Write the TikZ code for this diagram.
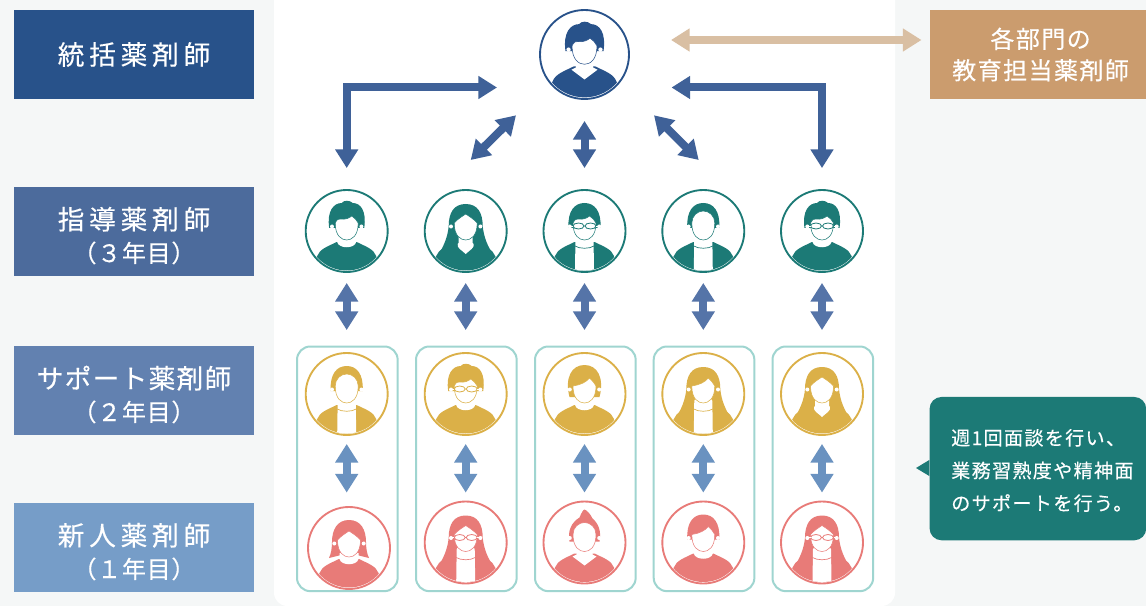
\documentclass[tikz,border=0pt]{standalone}
\usepackage{fontspec}
\usetikzlibrary{arrows.meta}
\newfontfamily\jp[FakeBold=0.3]{Noto Sans CJK JP}
\definecolor{pagebg}{HTML}{F5F7F7}
\definecolor{navyA}{HTML}{28528A}
\definecolor{navyB}{HTML}{4C6B9C}
\definecolor{navyC}{HTML}{6281B0}
\definecolor{navyD}{HTML}{769DC8}
\definecolor{tealP}{HTML}{1C7A76}
\definecolor{yellowP}{HTML}{DBB048}
\definecolor{redP}{HTML}{E87B78}
\definecolor{boxline}{HTML}{9FD5D0}
\definecolor{tan}{HTML}{CB9C6E}
\definecolor{tanlight}{HTML}{D9BFA3}
\definecolor{arrA}{HTML}{3F6198}
\definecolor{arrB}{HTML}{5574A8}
\definecolor{arrC}{HTML}{6A92C0}
\newcommand{\lblfont}[1]{\jp\fontsize{20pt}{24.5pt}\selectfont\addfontfeature{LetterSpace=#1}}
\newcommand{\yearfont}{\fontsize{18pt}{24.5pt}\selectfont\addfontfeature{LetterSpace=3}}
\tikzset{
  x=.75pt,y=-.75pt,
  lbl/.style={fill=#1,text=white,minimum width=179.6pt,minimum height=66.4pt,inner sep=0pt,align=center,anchor=north west},
  twoway/.style={line width=6pt,{Triangle[length=14pt,width=16.5pt]}-{Triangle[length=14pt,width=16.5pt]}},
  group/.style={draw=boxline,line width=1.5pt,rounded corners=10pt,fill=white,minimum width=75.5pt,minimum height=183.5pt,inner sep=0pt,anchor=north west},
}
% ---- person parts: local coordinates in reference pixels, centred on circle
\newcommand{\pbody}{\fill[pc] (-40,48) -- (-29.5,25) .. controls (-27,18) and (-19,15.5) .. (-10,11) -- (10,11) .. controls (19,15.5) and (27,18) .. (29.5,25) -- (40,48) -- cycle;}
% hair
\newcommand{\hShort}{\fill[pc] (-17.5,-3) .. controls (-20,-20) and (-13,-28) .. (-5,-28) .. controls (-3,-31) and (3,-31) .. (6,-28) .. controls (14,-28) and (20,-20) .. (17.5,-3) -- cycle;}
\newcommand{\hThin}{\fill[pc] (-16,-3) .. controls (-17,-20) and (-10,-28) .. (0,-28) .. controls (10,-28) and (17,-20) .. (16,-3) -- cycle;}
\newcommand{\hBob}{\fill[pc] (0,-28) .. controls (-12,-28) and (-17,-18) .. (-17,-6) .. controls (-17,0) and (-18,6) .. (-20,10) -- (-8,7) -- (8,7) -- (20,10) .. controls (18,6) and (17,0) .. (17,-6) .. controls (17,-18) and (12,-28) .. (0,-28) -- cycle;}
\newcommand{\hRound}{\fill[pc] (-15,3) .. controls (-20,-16) and (-13,-29) .. (0,-29) .. controls (13,-29) and (20,-16) .. (15,3) -- cycle;}
\newcommand{\hLong}{\fill[pc] (0,-27) .. controls (-12,-27) and (-17,-18) .. (-17,-5) .. controls (-18,6) and (-22,16) .. (-29,26) -- (-10,30) -- (10,30) -- (29,26) .. controls (22,16) and (18,6) .. (17,-5) .. controls (17,-18) and (12,-27) .. (0,-27) -- cycle;}
\newcommand{\hBun}{\fill[pc] (-15,-1) .. controls (-17,-12) and (-13,-20) .. (-5,-25) .. controls (-3,-30) and (-1,-33) .. (0,-33) .. controls (3,-32) and (6,-28) .. (8,-24) .. controls (14,-19) and (17,-11) .. (15,-1) -- cycle;}
% necks
\newcommand{\nCrew}{\fill[white] (-9.5,5) -- (-9.5,11) .. controls (-8,18) and (8,18) .. (9.5,11) -- (9.5,5) -- cycle;}
\newcommand{\nV}{\fill[white] (-8,5) -- (-8,12) -- (-12,14) -- (0,23) -- (12,14) -- (8,12) -- (8,5) -- cycle;}
\newcommand{\nJacket}{\fill[white,rounded corners=1.5pt] (-9,5) -- (-9.5,40) -- (9.5,40) -- (9,5) -- cycle; \draw[pc,line width=.5pt] (-9.5,15) .. controls (-5,18) and (5,18) .. (9.5,15);}
\newcommand{\nHeart}{\fill[white] (-7,5) -- (-7,12) -- (-8,13) .. controls (-9,17) and (-4,19) .. (0,23) .. controls (4,19) and (9,17) .. (8,13) -- (7,12) -- (7,5) -- cycle;}
% faces (top edge differs)
\newcommand{\lowface}{(11.5,-8) .. controls (11.5,5) and (5,9) .. (0,9) .. controls (-5,9) and (-11.5,5) .. (-11.5,-8)}
\newcommand{\fFringe}{\filldraw[fill=white,draw=pc,line width=.4pt] \lowface .. controls (-10,-11) and (-8,-13) .. (-6,-12) .. controls (-2,-11) and (3,-13) .. (5,-15) .. controls (8,-13) and (10,-11) .. (11.5,-8) -- cycle;}
\newcommand{\fRound}{\filldraw[fill=white,draw=pc,line width=.4pt] \lowface .. controls (-11.5,-15) and (-6,-20) .. (0,-20) .. controls (6,-20) and (11.5,-15) .. (11.5,-8) -- cycle;}
\newcommand{\fSweep}{\filldraw[fill=white,draw=pc,line width=.4pt] \lowface .. controls (-4,-9) and (2,-12) .. (5,-16) .. controls (8,-13) and (10,-11) .. (11.5,-8) -- cycle;}
\newcommand{\fParted}{\filldraw[fill=white,draw=pc,line width=.4pt] \lowface .. controls (-8,-12) and (-3,-15) .. (0,-17) .. controls (3,-15) and (8,-12) .. (11.5,-8) -- cycle;}
\newcommand{\ears}{\fill[white] (-14.7,-4.5) circle (2) (14.7,-4.5) circle (2);}
\newcommand{\gOn}{\filldraw[fill=white,draw=pc,line width=.6pt] (-6,-5) ellipse (5.5 and 3) (6,-5) ellipse (5.5 and 3); \draw[white,line width=.6pt] (-16,-5) -- (-11.5,-5) (11.5,-5) -- (16,-5);}
\newcommand{\gOff}{}
% #1 name #2 position #3 colour #4 diameter(pt) #5 scale #6 hair #7 neck #8 face #9 glasses
\newcommand{\person}[9]{%
  \colorlet{pc}{#3}%
  \begin{scope}[shift={#2},scale=#5]
    \begin{scope}
      \clip (0,0) circle (39.5);
      \pbody #6 #7 #8 \ears #9
    \end{scope}
  \end{scope}
  \node[circle,draw=pc,line width=1.4pt,minimum size=#4,inner sep=0pt] (#1) at #2 {};
}
\begin{document}
\begin{tikzpicture}
\useasboundingbox (0,0) rectangle (1146,606);
\fill[pagebg] (0,0) rectangle (1146,606);
\fill[white,rounded corners=10pt] (274,-30) rectangle (895,606);
\fill[white] (274,-30) rectangle (895,590);

% level labels
\node[lbl=navyA,font=\lblfont{18}] (l1) at (14,10) {統括薬剤師};
\node[lbl=navyB,font=\lblfont{18}] (l2) at (14,187) {\rule{0pt}{23pt}指導薬剤師\\{\yearfont（３年目）}};
\node[lbl=navyC,font=\lblfont{5}] (l3) at (14,346) {\rule{0pt}{23pt}サポート薬剤師\\{\yearfont（２年目）}};
\node[lbl=navyD,font=\lblfont{18}] (l4) at (14,503) {\rule{0pt}{23pt}新人薬剤師\\{\yearfont（１年目）}};

% right upper label
\node[fill=tan,text=white,minimum width=162.5pt,minimum height=66.4pt,inner sep=0pt,align=center,anchor=north west,font=\jp\fontsize{18pt}{23.5pt}\selectfont\addfontfeature{LetterSpace=6}] (edu) at (929.3,10) {\hspace*{4pt}各部門の\\\hspace*{4pt}教育担当薬剤師};

% groups
\node[group] (g1) at (296,345.5) {};
\node[group] (g2) at (415,345.5) {};
\node[group] (g3) at (534,345.5) {};
\node[group] (g4) at (652.7,345.5) {};
\node[group] (g5) at (771.5,345.5) {};

% persons
\person{top}{(584.5,54.5)}{navyA}{66.75pt}{1.085}{\hShort}{\nV}{\fFringe}{\gOff}
\person{a1}{(346.7,231)}{tealP}{61.5pt}{1}{\hShort}{\nCrew}{\fFringe}{\gOff}
\person{a2}{(465.7,231)}{tealP}{61.5pt}{1}{\hLong}{\nHeart}{\fParted}{\gOff}
\person{a3}{(584.5,231)}{tealP}{61.5pt}{1}{\hThin}{\nJacket}{\fFringe}{\gOn}
\person{a4}{(703.3,231)}{tealP}{61.5pt}{1}{\hThin}{\nJacket}{\fRound}{\gOff}
\person{a5}{(822,231)}{tealP}{61.5pt}{1}{\hShort}{\nCrew}{\fFringe}{\gOn}
\person{b1}{(346.7,394)}{yellowP}{61.5pt}{1}{\hThin}{\nJacket}{\fRound}{\gOff}
\person{b2}{(465.7,394)}{yellowP}{61.5pt}{1}{\hShort}{\nCrew}{\fFringe}{\gOn}
\person{b3}{(584.5,394)}{yellowP}{61.5pt}{1}{\hRound}{\nCrew}{\fSweep}{\gOff}
\person{b4}{(703.3,394)}{yellowP}{61.5pt}{1}{\hLong}{\nJacket}{\fSweep}{\gOff}
\person{b5}{(822,394)}{yellowP}{61.5pt}{1}{\hLong}{\nHeart}{\fParted}{\gOff}
\person{c1}{(349,548)}{redP}{61.5pt}{1}{\hBob}{\nCrew}{\fParted}{\gOff}
\person{c2}{(465.7,542.5)}{redP}{61.5pt}{1}{\hLong}{\nJacket}{\fParted}{\gOn}
\person{c3}{(584.5,542.5)}{redP}{61.5pt}{1}{\hBun}{\nV}{\fRound}{\gOff}
\person{c4}{(703.3,542.5)}{redP}{61.5pt}{1}{\hThin}{\nCrew}{\fSweep}{\gOff}
\person{c5}{(822,542.5)}{redP}{61.5pt}{1}{\hLong}{\nJacket}{\fParted}{\gOn}

% free arrow ends
\coordinate (bentL) at (497,87.5);
\coordinate (bentR) at (671.5,87.5);
\coordinate (diagLa) at (516,115.3);
\coordinate (diagLb) at (470.7,160);
\coordinate (diagRa) at (654,115.3);
\coordinate (diagRb) at (698.7,160);
\coordinate (beigeEnd) at (671,40);
\coordinate (beigeBox) at (921.5,40);

% upper connectors
\draw[twoway,draw=tanlight] (beigeEnd) -- (beigeBox);
\draw[twoway,draw=arrA,shorten >=15.75pt] (bentL) -| (a1.north);
\draw[twoway,draw=arrA,shorten >=15.75pt] (bentR) -| (a5.north);
\draw[twoway,draw=arrA] (diagLa) -- (diagLb);
\draw[twoway,draw=arrA] (diagRa) -- (diagRb);
\draw[twoway,draw=arrA,shorten <=15.75pt,shorten >=15.75pt] (top.south) -- (a3.north);

% level 2-3 connectors
\foreach \u/\v in {a1/b1,a2/b2,a3/b3,a4/b4,a5/b5}
  \draw[twoway,draw=arrB,shorten <=7.5pt,shorten >=16.5pt] (\u.south) -- (\v.north);
% level 3-4 connectors
\foreach \u/\v in {b2/c2,b3/c3,b4/c4,b5/c5}
  \draw[twoway,draw=arrC,shorten <=6pt,shorten >=6pt] (\u.south) -- (\v.north);
\coordinate (c1top) at (b1.south |- c2.north);
\draw[twoway,draw=arrC,shorten <=6pt,shorten >=6pt] (b1.south) -- (c1top);

% speech bubble
\node[fill=tealP,rounded corners=9pt,minimum width=162.5pt,minimum height=107.5pt,inner sep=0pt,anchor=north west] (bubble) at (929.3,396.7) {};
\coordinate (tip) at (916,468);
\fill[tealP] (tip) -- (bubble.west |- 0,460) -- (bubble.west |- 0,476) -- cycle;
\node[text=white,align=left,anchor=west,inner sep=0pt,font=\jp\fontsize{14.3pt}{24.5pt}\selectfont\addfontfeature{LetterSpace=7}] (btext) at (951,470.5) {週1回面談を行い、\\業務習熟度や精神面\\のサポートを行う。};
\end{tikzpicture}
\end{document}
